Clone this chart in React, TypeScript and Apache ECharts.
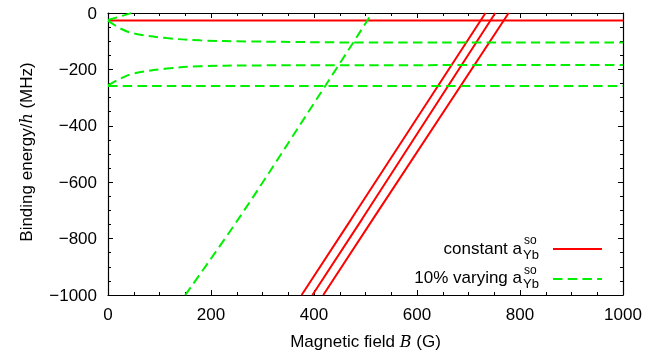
import React, { useEffect, useRef } from "react";
import * as echarts from "echarts";

const xTicks = [0, 200, 400, 600, 800, 1000];
const yTicks = [-1000, -800, -600, -400, -200, 0];

// constant a_Yb^so (red)
const redFlat: [number, number][] = [[0, -27], [1000, -27]];
const redDiag1: [number, number][] = [[376, -1000], [473, -729], [733, 0]];
const redDiag2: [number, number][] = [[397, -1000], [494, -729], [752, 0]];
const redDiag3: [number, number][] = [[418, -1000], [515, -729], [778, 0]];

// 10% varying a_Yb^so (green)
const greenUpper: [number, number][] = [[0, -27], [23, -54], [49, -72], [114, -89], [179, -97], [276, -101], [567, -105], [1000, -105]];
const greenMid: [number, number][] = [[0, -257], [23, -234], [49, -215], [114, -197], [179, -189], [276, -186], [567, -185], [1000, -184]];
const greenFlat: [number, number][] = [[0, -259], [1000, -259]];
const greenDiag: [number, number][] = [[150, -1000], [256, -723], [405, -306], [513, 0]];
const greenSteep: [number, number][] = [[0, -25], [46, 0]];

const RED = "#ff0000";
const GREEN = "#00f000";
const FONT = "Liberation Sans, Arial, sans-serif";
const FS = 17;

const fmt = (v: number) => (v < 0 ? "\u2212" + Math.abs(v) : String(v));

export default function App() {
  const ref = useRef<HTMLDivElement>(null);
  useEffect(() => {
    if (!ref.current) return;
    const chart = echarts.init(ref.current, undefined, { renderer: "svg" });
    const redLine = (data: [number, number][]) => ({
      type: "line", data, symbol: "none", smooth: false,
      lineStyle: { color: RED, width: 2 }, clip: true, z: 3,
    });
    const greenLine = (data: [number, number][], smooth = false) => ({
      type: "line", data, symbol: "none", smooth: smooth ? 0.35 : false,
      lineStyle: { color: GREEN, width: 2, type: [9.5, 5.2] }, clip: true, z: 4,
    });
    const axisCommon = {
      axisLine: { show: true, onZero: false, lineStyle: { color: "#000", width: 1.2 } },
      axisTick: { show: true, inside: true, length: 5, lineStyle: { color: "#000" } },
      minorTick: { show: true, splitNumber: 4, length: 3, lineStyle: { color: "#000" } },
      splitLine: { show: false },
    };
    const nameStyle = {
      color: "#000", fontSize: FS, fontFamily: FONT,
      rich: { i: { fontFamily: "DejaVu Serif, serif", fontStyle: "italic", fontSize: FS - 1, color: "#000" } },
    };
    chart.setOption({
      animation: false,
      textStyle: { fontFamily: FONT },
      grid: { left: 108, top: 13, right: 35, bottom: 58 },
      xAxis: [
        {
          type: "value", min: xTicks[0], max: xTicks[xTicks.length - 1], interval: 200,
          position: "bottom", ...axisCommon,
          axisLabel: { color: "#000", fontSize: FS, margin: 11, fontFamily: FONT, formatter: fmt },
          name: "Magnetic field {i|B} (G)", nameLocation: "middle", nameGap: 38,
          nameTextStyle: nameStyle,
        },
        {
          type: "value", min: xTicks[0], max: xTicks[xTicks.length - 1], interval: 200,
          position: "top", ...axisCommon, axisLabel: { show: false },
        },
      ],
      yAxis: [
        {
          type: "value", min: yTicks[0], max: yTicks[yTicks.length - 1], interval: 200,
          position: "left", ...axisCommon,
          axisLabel: { color: "#000", fontSize: FS, margin: 11, fontFamily: FONT, formatter: fmt },
        },
        {
          type: "value", min: yTicks[0], max: yTicks[yTicks.length - 1], interval: 200,
          position: "right", ...axisCommon, axisLabel: { show: false },
        },
      ],
      series: [
        redLine(redFlat), redLine(redDiag1), redLine(redDiag2), redLine(redDiag3),
        greenLine(greenUpper, true), greenLine(greenMid, true), greenLine(greenFlat),
        greenLine(greenDiag, true), greenLine(greenSteep),
      ],
      graphic: [
        {
          type: "text", x: 26, y: 152, rotation: Math.PI / 2,
          style: {
            text: "Binding energy/{i|h} (MHz)", fontSize: 17, fontFamily: FONT, fill: "#000",
            align: "center", verticalAlign: "middle",
            rich: { i: { fontFamily: "DejaVu Serif, serif", fontStyle: "italic", fontSize: 16, fill: "#000" } },
          },
        },
        { type: "text", x: 522, y: 248, style: { text: "constant a", font: `${FS}px ${FONT}`, fill: "#000", align: "right", verticalAlign: "middle" } },
        { type: "text", x: 524, y: 240, style: { text: "so", font: `12px ${FONT}`, fill: "#000", align: "left", verticalAlign: "middle" } },
        { type: "text", x: 523, y: 254, style: { text: "Yb", font: `13px ${FONT}`, fill: "#000", align: "left", verticalAlign: "middle" } },
        { type: "line", shape: { x1: 553, y1: 249, x2: 602, y2: 249 }, style: { stroke: RED, lineWidth: 2 } },
        { type: "text", x: 522, y: 277, style: { text: "10% varying a", font: `${FS}px ${FONT}`, fill: "#000", align: "right", verticalAlign: "middle" } },
        { type: "text", x: 524, y: 270, style: { text: "so", font: `12px ${FONT}`, fill: "#000", align: "left", verticalAlign: "middle" } },
        { type: "text", x: 523, y: 283, style: { text: "Yb", font: `13px ${FONT}`, fill: "#000", align: "left", verticalAlign: "middle" } },
        { type: "line", shape: { x1: 553, y1: 279, x2: 602, y2: 279 }, style: { stroke: GREEN, lineWidth: 2, lineDash: [9.5, 5.2] } },
      ],
    });
    return () => chart.dispose();
  }, []);
  return <div ref={ref} style={{ position: "fixed", left: 0, top: 0, width: 658, height: 355 }} />;
}
